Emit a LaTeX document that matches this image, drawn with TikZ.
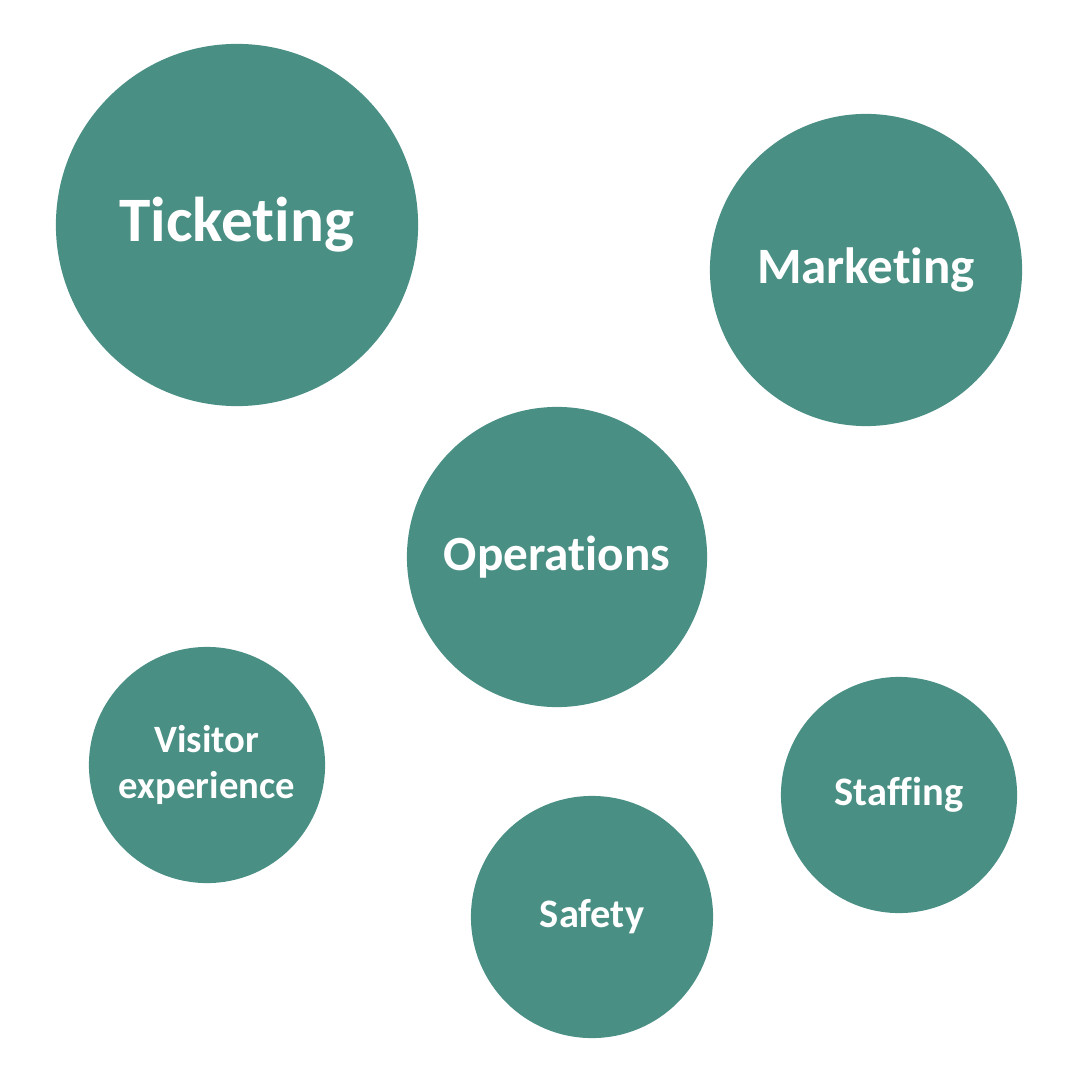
\documentclass[tikz,border=0pt]{standalone}
\usepackage{fontspec}
\setmainfont{Carlito}[Ligatures=NoCommon]
\definecolor{teal1}{HTML}{4A8F84}
\begin{document}
\begin{tikzpicture}[x=0.01cm,y=-0.01cm,
  bub/.style={circle,fill=teal1,text=white,font=\bfseries,align=center,inner sep=0pt}]
\useasboundingbox (0,0) rectangle (1080,1080);
\node[bub,minimum size=3.62cm,font=\bfseries\fontsize{18}{20}\selectfont] (tick) at (237,225) {Ticketing};
\node[bub,minimum size=3.12cm,font=\bfseries\fontsize{14.5}{17}\selectfont] (mark) at (866,270) {Marketing};
\node[bub,minimum size=3.0cm,font=\bfseries\fontsize{14}{16}\selectfont] (ops) at (557,557) {Operations};
\node[bub,minimum size=2.36cm,font=\bfseries\fontsize{11}{13}\selectfont] (vis) at (207,765) {Visitor\\experience};
\node[bub,minimum size=2.36cm,font=\bfseries\fontsize{11.5}{13}\selectfont] (staff) at (899,795) {Staffing};
\node[bub,minimum size=2.42cm,font=\bfseries\fontsize{11.5}{13}\selectfont] (safe) at (592,917) {Safety};
\end{tikzpicture}
\end{document}
